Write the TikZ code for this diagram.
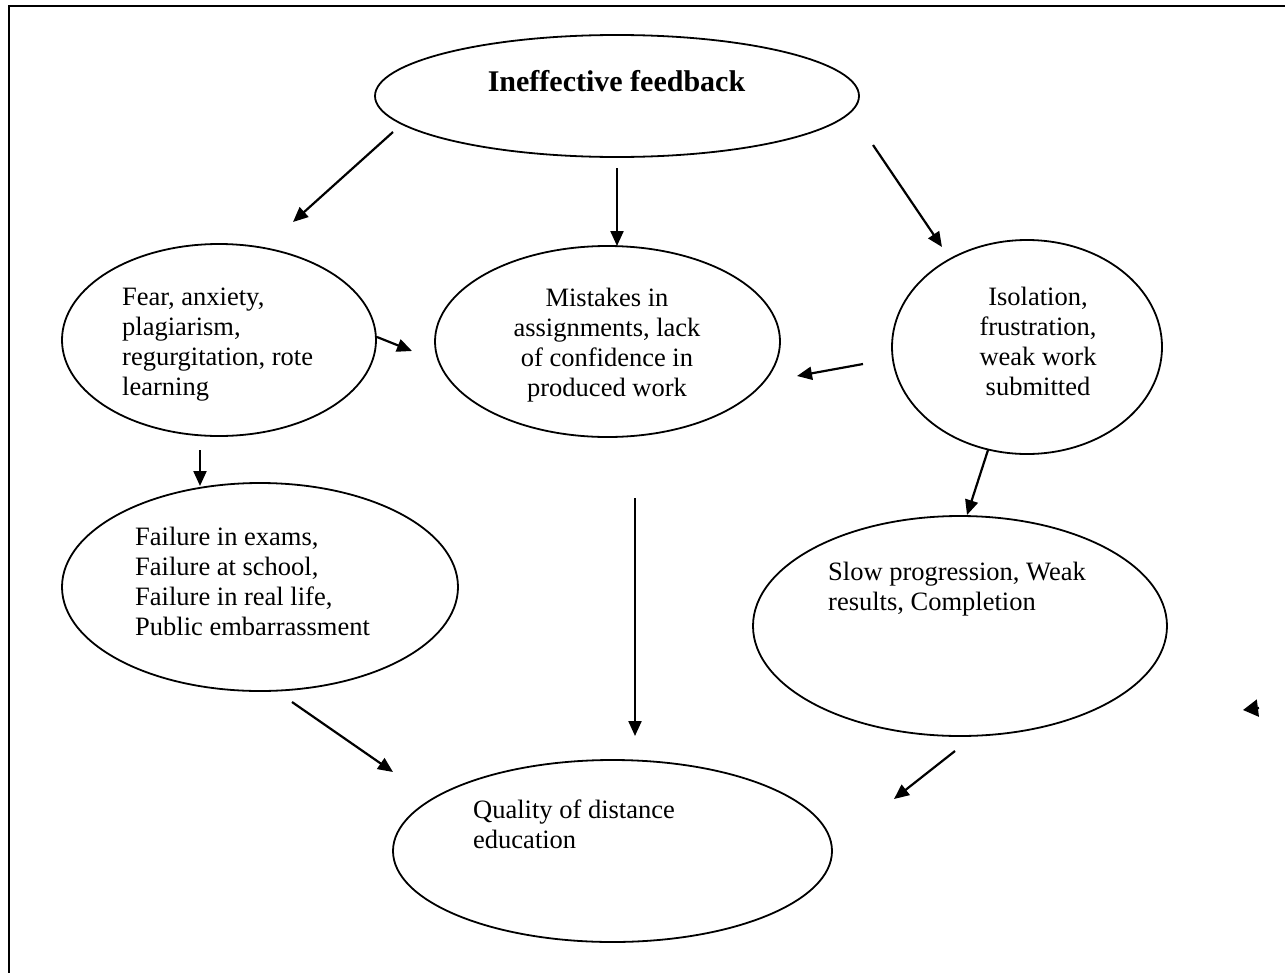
\documentclass[tikz,border=0pt]{standalone}
\usepackage{fontspec}
\setmainfont{Liberation Serif}
\usetikzlibrary{arrows.meta,shapes.geometric}
\begin{document}
\begin{tikzpicture}[x=1pt,y=-1pt,
  oval/.style={draw,ellipse,line width=1.8pt,inner sep=0pt},
  arr/.style={line width=2.2pt,-{Triangle[length=15pt,width=13pt]}},
  stub/.style={line width=2.2pt,-{Triangle[length=15pt,width=17pt]}},
  body/.style={font=\fontsize{26.5}{30}\selectfont,inner sep=0pt,align=left},
  ctr/.style={font=\fontsize{26.5}{30}\selectfont,inner sep=0pt,align=center}]
\useasboundingbox (0,0) rectangle (1285,972);
\clip (0,0) rectangle (1285,972);
\draw[line width=2.8pt] (9,990) -- (9,6) -- (1300,6);

% ellipses
\node[oval,minimum width=484pt,minimum height=122pt] (fb) at (617,96) {};
\node[oval,minimum width=314pt,minimum height=192pt] (fear) at (219,340) {};
\node[oval,minimum width=345pt,minimum height=191pt] (mis) at (607.5,341.5) {};
\node[oval,minimum width=270pt,minimum height=214pt] (iso) at (1027,347) {};
\node[oval,minimum width=396pt,minimum height=208pt] (fail) at (260,587) {};
\node[oval,minimum width=414pt,minimum height=220pt] (slow) at (960,626) {};
\node[oval,minimum width=439pt,minimum height=182pt] (qual) at (612.5,851) {};

% texts (base anchor = baseline of the last line)
\node[font=\bfseries\fontsize{30}{36}\selectfont,inner sep=0pt,anchor=base] (fbt) at (616.5,91) {Ineffective feedback};
\node[body,anchor=base west] (feart) at (122,395) {Fear, anxiety,\\plagiarism,\\regurgitation, rote\\learning};
\node[ctr,anchor=base] (mist) at (607,396) {Mistakes in\\assignments, lack\\of confidence in\\produced work};
\node[ctr,anchor=base] (isot) at (1038,395) {Isolation,\\frustration,\\weak work\\submitted};
\node[body,anchor=base west] (failt) at (135,635) {Failure in exams,\\Failure at school,\\Failure in real life,\\Public embarrassment};
\node[body,anchor=base west] (slowt) at (828,610) {Slow progression, Weak\\results, Completion};
\node[body,anchor=base west] (qualt) at (473,848) {Quality of distance\\education};

% arrow end points
\coordinate (a1s) at (393,132); \coordinate (a1e) at (293,222);
\coordinate (a2s) at (617,168); \coordinate (a2e) at (617,246);
\coordinate (a3s) at (873,145); \coordinate (a3e) at (942,247);
\coordinate (a4s) at (377,337); \coordinate (a4e) at (412,351);
\coordinate (a5s) at (863,364); \coordinate (a5e) at (797,376);
\coordinate (a6s) at (200,450); \coordinate (a6e) at (200,486);
\coordinate (a7s) at (988,450); \coordinate (a7e) at (967,515);
\coordinate (a8s) at (635,498); \coordinate (a8e) at (635,736);
\coordinate (a9s) at (292,702); \coordinate (a9e) at (393,772);
\coordinate (a10s) at (955,751); \coordinate (a10e) at (894,799);
\coordinate (a11s) at (1259,708); \coordinate (a11e) at (1243,710);

\draw[arr] (a1s) -- (a1e);
\draw[arr] (a2s) -- (a2e);
\draw[arr] (a3s) -- (a3e);
\draw[arr] (a4s) -- (a4e);
\draw[arr] (a5s) -- (a5e);
\draw[arr] (a6s) -- (a6e);
\draw[arr] (a7s) -- (a7e);
\draw[arr] (a8s) -- (a8e);
\draw[arr] (a9s) -- (a9e);
\draw[arr] (a10s) -- (a10e);
\draw[stub] (a11s) -- (a11e);
\end{tikzpicture}
\end{document}
